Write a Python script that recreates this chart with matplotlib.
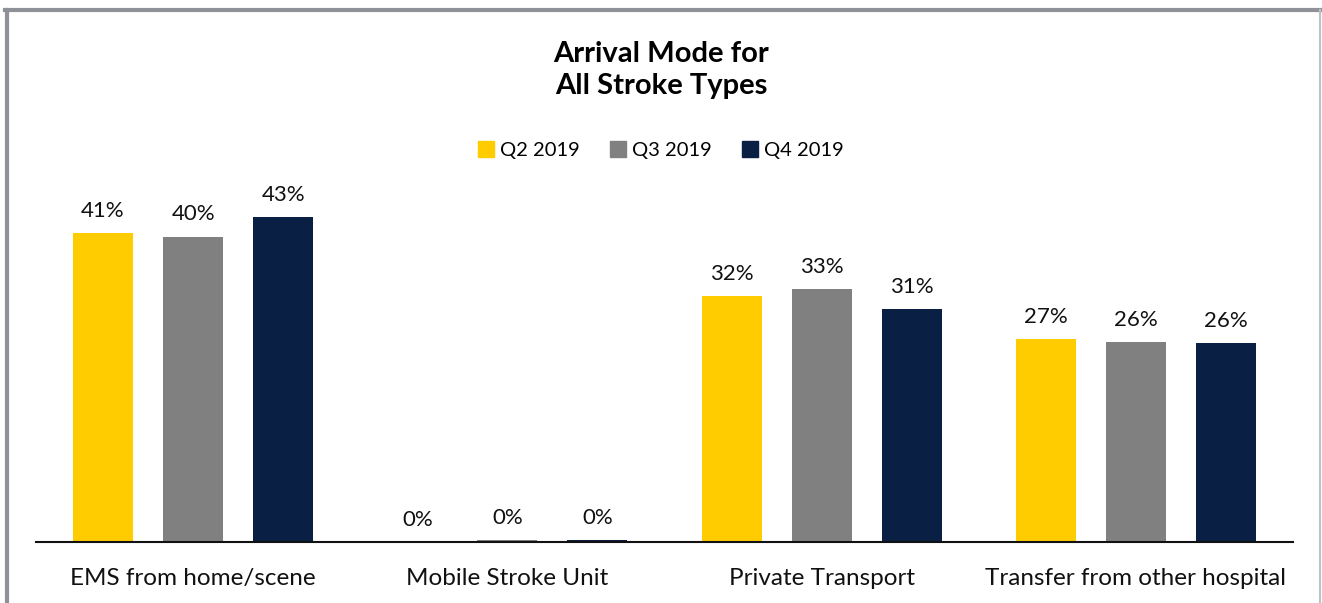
import numpy as np
import matplotlib.pyplot as plt
from matplotlib.lines import Line2D

plt.rcParams['font.family'] = ['Lato', 'DejaVu Sans']

categories = ["EMS from home/scene", "Mobile Stroke Unit", "Private Transport", "Transfer from other hospital"]
series = ["Q2 2019", "Q3 2019", "Q4 2019"]
q2 = [40.9, 0.0, 32.5, 26.9]
q3 = [40.4, 0.2, 33.4, 26.5]
q4 = [43.0, 0.2, 30.8, 26.3]
labels_q2 = ["41%", "0%", "32%", "27%"]
labels_q3 = ["40%", "0%", "33%", "26%"]
labels_q4 = ["43%", "0%", "31%", "26%"]
colors = ["#FFCC00", "#808080", "#0A1F44"]

W, H = 1322, 603
fig = plt.figure(figsize=(W / 100, H / 100), dpi=100)
ax = fig.add_axes([36 / W, (H - 542) / H, (1293 - 36) / W, 378 / H])

x = np.arange(len(categories))
width = 60 / 314
offset = 90 / 314
for i, (vals, labs) in enumerate(zip([q2, q3, q4], [labels_q2, labels_q3, labels_q4])):
    pos = x + (i - 1) * offset
    ax.bar(pos, vals, width=width, color=colors[i], label=series[i])
    for p, v, l in zip(pos, vals, labs):
        ax.text(p, v + 1.6, l, ha="center", va="bottom", fontsize=16, color="#111111")

ax.set_xlim(-0.5, 3.5)
ax.set_ylim(0, 50)
ax.set_yticks([])
ax.set_xticks(x, labels=categories)
ax.tick_params(axis="x", length=0, labelsize=17.5, pad=19, labelcolor="#111111")
for s in ["top", "right", "left"]:
    ax.spines[s].set_visible(False)
ax.spines["bottom"].set_linewidth(1.5)
ax.spines["bottom"].set_color("#111111")

fig.text(0.5, 1 - 70 / H, "Arrival Mode for\nAll Stroke Types", ha="center", va="center",
         fontsize=21, fontweight="bold", linespacing=1.3)

handles = [Line2D([], [], marker="s", linestyle="none", markersize=11, color=c) for c in colors]
fig.legend(handles, series, loc="center", bbox_to_anchor=(0.5, 1 - 150 / H), ncol=3,
           frameon=False, fontsize=14.5, handlelength=0.8, handletextpad=0.3, columnspacing=1.5)

# outer border
bc = "#8F9199"
fig.add_artist(Line2D([6.5 / W, 6.5 / W], [0, 1 - 9.5 / H], color=bc, lw=3, transform=fig.transFigure))
fig.add_artist(Line2D([5 / W, 1320.5 / W], [1 - 9.5 / H, 1 - 9.5 / H], color=bc, lw=3, transform=fig.transFigure))
fig.add_artist(Line2D([1320 / W, 1320 / W], [0, 1 - 9.5 / H], color="#C0C0C0", lw=1.5, transform=fig.transFigure))

fig.savefig("out.png", dpi=100)
